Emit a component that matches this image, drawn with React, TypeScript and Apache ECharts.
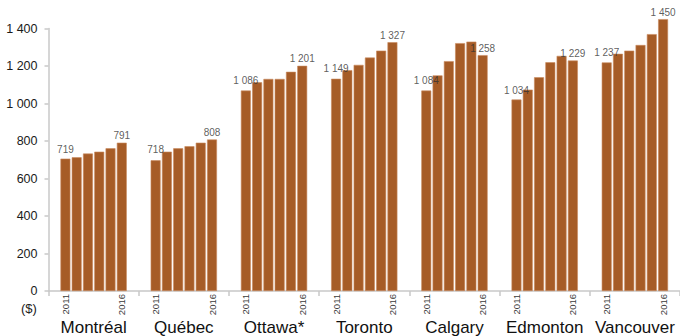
import React, { useEffect, useRef } from "react";
import * as echarts from "echarts";

const cities = ["Montréal", "Québec", "Ottawa*", "Toronto", "Calgary", "Edmonton", "Vancouver"];
const years = ["2011", "2012", "2013", "2014", "2015", "2016"];

const montreal = [706, 713, 733, 743, 761, 791];
const quebec = [697, 743, 761, 772, 791, 808];
const ottawa = [1069, 1113, 1131, 1131, 1169, 1201];
const toronto = [1132, 1178, 1206, 1245, 1282, 1327];
const calgary = [1069, 1150, 1226, 1322, 1330, 1258];
const edmonton = [1021, 1074, 1140, 1220, 1254, 1229];
const vancouver = [1219, 1265, 1282, 1312, 1370, 1450];

const firstLabels = [719, 718, 1086, 1149, 1084, 1034, 1237];
const lastLabels = [791, 808, 1201, 1327, 1258, 1229, 1450];

const yTicks = [0, 200, 400, 600, 800, 1000, 1200, 1400];

const FONT = "'Liberation Sans', Arial, sans-serif";

function fmt(v: number): string {
  if (v >= 1000) {
    return Math.floor(v / 1000) + " " + String(v % 1000).padStart(3, "0");
  }
  return String(v);
}

export default function App() {
  const ref = useRef<HTMLDivElement>(null);

  useEffect(() => {
    if (!ref.current) return;
    const chart = echarts.init(ref.current, null, { renderer: "svg" });
    const cityValues = [montreal, quebec, ottawa, toronto, calgary, edmonton, vancouver];

    // 8 slots per city: spacer, 6 years, spacer
    const slotCats: string[] = [];
    const barData: (number | null)[] = [];
    const labelData: (number | null)[] = [];
    cities.forEach((c, ci) => {
      slotCats.push(c + "|a");
      barData.push(null);
      labelData.push(null);
      years.forEach((y, yi) => {
        slotCats.push(c + "|" + y);
        barData.push(cityValues[ci][yi]);
        if (yi === 0) labelData.push(firstLabels[ci]);
        else if (yi === years.length - 1) labelData.push(lastLabels[ci]);
        else labelData.push(null);
      });
      slotCats.push(c + "|b");
      barData.push(null);
      labelData.push(null);
    });

    const option: any = {
      animation: false,
      grid: { left: 48.5, right: 0, top: 28.5, bottom: 43.5, containLabel: false },
      xAxis: [
        {
          type: "category",
          data: slotCats,
          position: "bottom",
          axisLine: { show: false },
          axisTick: { show: false },
          axisLabel: {
            interval: 0,
            rotate: 90,
            margin: 3,
            fontSize: 9.5,
            fontFamily: FONT,
            color: "#3a3a3a",
            formatter: (v: string) => {
              const y = v.split("|")[1];
              return y === years[0] || y === years[years.length - 1] ? y : "";
            },
          },
        },
        {
          type: "category",
          data: cities,
          position: "bottom",
          boundaryGap: true,
          axisLine: { show: true, lineStyle: { color: "#c8c8c8", width: 1.5 } },
          axisTick: { show: true, length: 5, lineStyle: { color: "#c8c8c8", width: 1.5 } },
          axisLabel: {
            interval: 0,
            margin: 28,
            fontSize: 17,
            fontFamily: FONT,
            color: "#111",
          },
        },
      ],
      yAxis: {
        type: "value",
        min: 0,
        max: 1400,
        interval: 200,
        axisLine: { show: true, lineStyle: { color: "#c8c8c8", width: 1.5 } },
        axisTick: { show: true, length: 4, lineStyle: { color: "#c8c8c8", width: 1.5 } },
        splitLine: { show: false },
        axisLabel: {
          margin: 11,
          fontSize: 12.5,
          fontFamily: FONT,
          color: "#1a1a1a",
          formatter: (v: number) => (yTicks.includes(v) ? fmt(v) : ""),
        },
      },
      graphic: [
        {
          type: "text",
          left: 21,
          top: 302,
          style: { text: "($)", fontSize: 13, fontFamily: FONT, fill: "#222" },
        },
      ],
      series: [
        {
          type: "bar",
          xAxisIndex: 0,
          data: barData,
          clip: false,
          barCategoryGap: "12%",
          itemStyle: { color: "#A65C27", borderColor: "#C98A5E", borderWidth: 0.6 },
        },
        {
          type: "scatter",
          xAxisIndex: 0,
          data: labelData,
          clip: false,
          symbolSize: 0,
          z: 5,
          label: {
            show: true,
            position: "top",
            distance: 2,
            fontSize: 10,
            fontFamily: FONT,
            color: "#333",
            formatter: (p: any) => (p.value == null ? "" : fmt(p.value)),
          },
        },
      ],
    };
    chart.setOption(option);
    return () => chart.dispose();
  }, []);

  return (
    <div
      ref={ref}
      style={{ position: "fixed", left: 0, top: 0, width: 680, height: 336, background: "#fff" }}
    />
  );
}
